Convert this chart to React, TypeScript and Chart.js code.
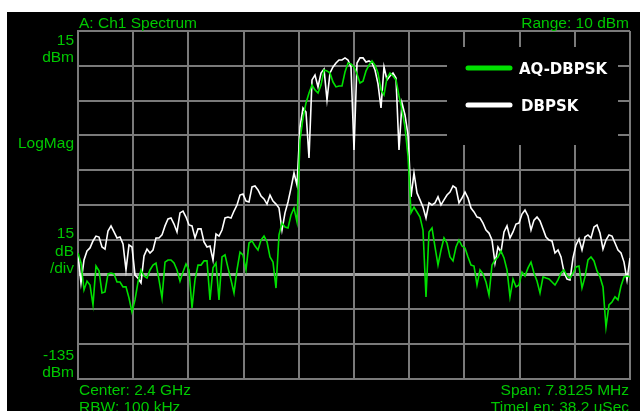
import React, { useEffect, useRef } from "react";
import { Chart, registerables } from "chart.js";

Chart.register(...registerables);

// ---- chart data ----
const centerMHz = 2400;
const spanMHz = 7.8125;
const yTop = 15;
const yBottom = -135;
const dbPerDiv = 15;
const xDivisions = 10;
const refLevel = -90;

const seriesNames = ["AQ-DBPSK", "DBPSK"];

const aqDbpsk = [
  -80.7, -85, -96.6, -92.8, -94.5, -103.1, -86.3, -88.4, -97.9, -97.5,
  -89.7, -89.3, -89.7, -93.2, -93.2, -95.3, -95.3, -100.1, -106.1, -100.9,
  -93.2, -88, -90.6, -91.5, -88, -85.9, -85, -92.3, -100.1, -84.6,
  -83.7, -83.7, -85, -88, -92.8, -88.9, -85.4, -88, -104.4, -92.3,
  -85.9, -85.9, -84.1, -84.1, -100.9, -87.1, -85, -100.9, -82.4, -81.5,
  -87.1, -92.3, -97.9, -88, -80.3, -81.5, -88, -76.4, -75.5, -77.7,
  -79.4, -75.1, -73.4, -75.9, -82.4, -84.6, -95.8, -72.9, -67.8, -69.5,
  -69.9, -64.3, -61.3, -67.3, -32, -22.5, -16, -11.7, -8.3, -10.4,
  -11.7, -8.3, -1.8, -2.2, -3.1, -7, -9.1, -8.7, -8.7, -2.7,
  1.2, 0.8, -0.5, -3.5, -7.4, -6.6, -2.2, 0.3, 2.1, 0.3,
  -3.1, -10.4, -12.6, -5.3, -3.1, -4.4, -6.1, -13, -19.1, -26.4,
  -38.9, -63.4, -60.9, -63, -65.2, -70.8, -99.6, -71.6, -69.9, -78.1,
  -85.9, -79.4, -74.2, -76.4, -82.4, -84.1, -78.1, -75.1, -77.7, -78.5,
  -82.4, -85.9, -86.3, -94.5, -88, -89.7, -93.2, -98.8, -85.9, -83.7,
  -82.4, -79.8, -82.8, -88, -99.6, -91.9, -95.3, -94.5, -88.9, -90.6,
  -87.1, -84.6, -89.3, -92.8, -97.9, -91, -91.5, -91.9, -93.2, -94.5,
  -92.3, -89.3, -88, -90.6, -91.5, -89.3, -86.7, -86.3, -95.8, -91,
  -83.7, -82.4, -84.1, -88.4, -91, -95.3, -112.6, -103.1, -101.8, -99.6,
  -100.9, -94.9, -91, -90.6, -91,
];

const dbpsk = [
  -81.5, -93.6, -83.7, -79.8, -78.5, -75.5, -73.4, -73.8, -78.1, -79,
  -71.2, -69, -71.6, -74.2, -73.8, -76.8, -88, -77.2, -78.1, -90.2,
  -91.5, -93.6, -82, -79, -80.7, -79.4, -74.2, -74.2, -72.9, -69,
  -66, -65.6, -68.2, -71.6, -63.4, -62.6, -65.2, -68.6, -69, -74.2,
  -70.3, -70.3, -75.9, -78.1, -77.7, -83.7, -72.5, -73.4, -70.8, -65.6,
  -65.2, -65.6, -62.6, -60, -55.7, -55.3, -58.3, -58.7, -52.2, -51.8,
  -53.5, -56.1, -57.4, -59.6, -55.7, -58.3, -59.6, -61.3, -70.8, -63.4,
  -58.7, -52.7, -46.2, -51.4, -26.4, -18.2, -19.9, -39.7, -6.1, -4,
  -9.1, -3.1, -1.4, -14.7, -3.1, -0.5, 1.2, 2.5, 2.5, 3.4,
  2.5, -0.5, -36.3, 1.2, 3.4, 3.4, 1.6, 2.1, 1.2, -1.8,
  -7.8, -18.2, -0.5, -6.1, -4.4, -3.1, -5.3, -36.3, -16, -21.2,
  -29.8, -56.5, -46.2, -54.8, -57.8, -60.9, -65.6, -59.1, -60, -59.1,
  -56.5, -60, -57.8, -55.7, -54.4, -51.8, -52.7, -59.1, -57, -54.4,
  -57, -61.3, -63, -65.2, -65.6, -67.8, -70.8, -72.1, -75.1, -85,
  -78.1, -80.3, -71.6, -69, -74.2, -71.6, -68.2, -67.8, -63.9, -62.2,
  -64.7, -70.8, -66.5, -65.2, -66.9, -70.3, -73.8, -75.1, -75.5, -80.7,
  -79.4, -82.4, -88.9, -91.9, -92.3, -82.8, -77.2, -74.6, -79.4, -73.8,
  -72.9, -74.2, -69.5, -68.6, -72.1, -79, -75.1, -72.9, -73.4, -76.4,
  -79.4, -80.7, -84.6, -92.3, -82.8,
];

const headerLeft = "A: Ch1 Spectrum";
const headerRight = "Range: 10 dBm";
const footerLeft = ["Center: 2.4 GHz", "RBW: 100 kHz"];
const footerRight = ["Span: 7.8125 MHz", "TimeLen: 38.2 uSec"];
const sideTop = ["15", "dBm"];
const sideMid = "LogMag";
const sideScale = ["15", "dB", "/div"];
const sideBottom = ["-135", "dBm"];

// ---- styles ----
const TEXT_GREEN = "#00c800";
const TRACE_GREEN = "#00e000";
const GRID = "#7a7a7a";
const LABEL_FONT = "15.5px 'Liberation Sans', Arial, sans-serif";
const LEGEND_FONT = "bold 15px 'DejaVu Sans', Verdana, sans-serif";

const fStart = centerMHz - spanMHz / 2;
const fEnd = centerMHz + spanMHz / 2;
const toPoints = (arr: number[]) =>
  arr.map((y, i) => ({ x: fStart + (i * spanMHz) / (arr.length - 1), y }));

const framePlugin = {
  id: "scopeFrame",
  beforeDraw(chart: any) {
    const { ctx, width, height } = chart;
    ctx.save();
    ctx.fillStyle = "#000";
    ctx.fillRect(0, 0, width, height);
    ctx.restore();
  },
  beforeDatasetsDraw(chart: any) {
    const { ctx, chartArea: a, scales } = chart;
    ctx.save();
    // vertical division lines from the x scale
    ctx.strokeStyle = GRID;
    ctx.lineWidth = 2;
    for (let i = 0; i <= xDivisions; i++) {
      const px = Math.round(scales.x.getPixelForValue(fStart + (i * spanMHz) / xDivisions));
      ctx.beginPath();
      ctx.moveTo(px, a.top);
      ctx.lineTo(px, a.bottom);
      ctx.stroke();
    }
    // legend panel
    ctx.fillStyle = "#000";
    ctx.fillRect(a.left + 369, a.top + 16, 171, 98);
    ctx.restore();
  },
  afterDraw(chart: any) {
    const { ctx, chartArea: a, width } = chart;
    ctx.save();
    // legend
    const legendColors = [TRACE_GREEN, "#ffffff"];
    const legendY = [a.top + 37, a.top + 74];
    ctx.lineCap = "round";
    ctx.lineWidth = 5;
    seriesNames.forEach((name, i) => {
      ctx.strokeStyle = legendColors[i];
      ctx.beginPath();
      ctx.moveTo(a.left + 390, legendY[i]);
      ctx.lineTo(a.left + 432, legendY[i]);
      ctx.stroke();
      ctx.fillStyle = "#ffffff";
      ctx.font = LEGEND_FONT;
      ctx.textAlign = "left";
      ctx.textBaseline = "alphabetic";
      ctx.fillText(name, a.left + 441 + i * 2, legendY[i] + 5.5);
    });

    // green annotations
    ctx.fillStyle = TEXT_GREEN;
    ctx.font = LABEL_FONT;
    ctx.textBaseline = "alphabetic";
    ctx.textAlign = "left";
    ctx.fillText(headerLeft, a.left + 1, 16);
    ctx.fillText(footerLeft[0], a.left + 1, 383);
    ctx.fillText(footerLeft[1], a.left + 1, 400);
    ctx.textAlign = "right";
    ctx.fillText(headerRight, width - 11, 16);
    ctx.fillText(footerRight[0], width - 11, 383);
    ctx.fillText(footerRight[1], width - 11, 400);
    const sx = a.left - 4;
    ctx.fillText(sideTop[0], sx, 33);
    ctx.fillText(sideTop[1], sx, 50);
    ctx.fillText(sideMid, sx, 136);
    ctx.fillText(sideScale[0], sx, 226);
    ctx.fillText(sideScale[1], sx, 244);
    ctx.fillText(sideScale[2], sx, 261);
    ctx.fillText(sideBottom[0], sx, 348);
    ctx.fillText(sideBottom[1], sx, 365);
    ctx.restore();
  },
};

export default function App() {
  const ref = useRef<HTMLCanvasElement | null>(null);

  useEffect(() => {
    if (!ref.current) return;
    const chart = new Chart(ref.current, {
      type: "line",
      data: {
        datasets: [
          {
            label: seriesNames[0],
            data: toPoints(aqDbpsk),
            borderColor: TRACE_GREEN,
            borderWidth: 1.6,
            pointRadius: 0,
            tension: 0,
          },
          {
            label: seriesNames[1],
            data: toPoints(dbpsk),
            borderColor: "#ffffff",
            borderWidth: 1.6,
            pointRadius: 0,
            tension: 0,
          },
        ],
      },
      options: {
        animation: false,
        responsive: false,
        devicePixelRatio: 1,
        layout: { padding: { left: 71, right: 10, top: 19, bottom: 32 } },
        plugins: {
          legend: { display: false },
          tooltip: { enabled: false },
          title: { display: false },
        },
        scales: {
          x: {
            type: "linear",
            min: fStart,
            max: fEnd,
            ticks: { display: false },
            grid: { display: false, drawTicks: false },
            border: { display: true, color: GRID, width: 2 },
          },
          y: {
            type: "linear",
            min: yBottom,
            max: yTop,
            ticks: { display: false, stepSize: dbPerDiv },
            grid: {
              drawTicks: false,
              color: (c: any) => (c.tick && c.tick.value === refLevel ? "#a8a8a8" : GRID),
              lineWidth: (c: any) => (c.tick && c.tick.value === refLevel ? 3 : 2),
            },
            border: { display: true, color: GRID, width: 2 },
          },
        },
      },
      plugins: [framePlugin],
    });
    return () => chart.destroy();
  }, []);

  return (
    <div
      style={{
        position: "fixed",
        left: 0,
        top: 0,
        width: 640,
        height: 411,
        background: "#ffffff",
        overflow: "hidden",
      }}
    >
      <canvas
        ref={ref}
        width={633}
        height={399}
        style={{ position: "absolute", left: 7, top: 12, width: 633, height: 399 }}
      />
    </div>
  );
}
